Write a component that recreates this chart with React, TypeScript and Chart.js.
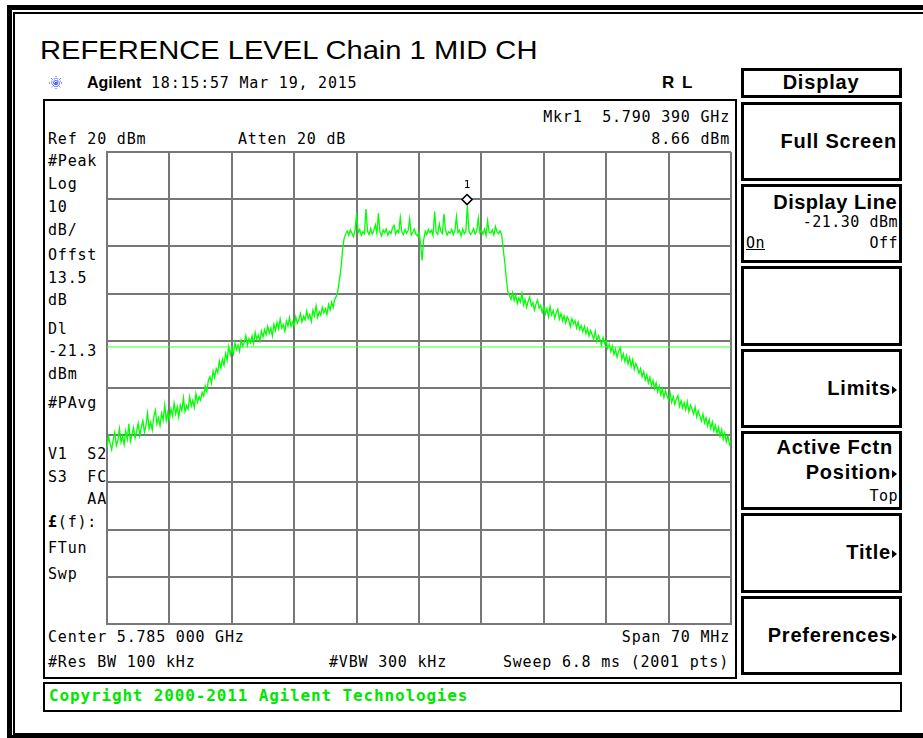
import React, { useEffect, useRef } from "react";
import { Chart, registerables } from "chart.js";

Chart.register(...registerables);

// ---- data ----
const FREQ_START_MHZ = 5750;
const FREQ_STOP_MHZ = 5820;
const REF_LEVEL_DBM = 20;
const BOTTOM_LEVEL_DBM = -80;
const DB_PER_DIV = 10;
const FREQ_DIV_MHZ = 7;
const DISPLAY_LINE_DBM = -21.3;
const MKR_FREQ_MHZ = 5790.39;
const MKR_LEVEL_DBM = 8.66;
const MKR_LABEL = "1";

// trace samples (dBm), evenly spaced across the span
const TRACE_DBM = [
  -42.6, -40.3, -41.8, -43.1, -40.9, -39.4, -42.2, -41.0, -38.6, -41.5, -40.2, -42.0, -39.1, -40.8, -37.6, -41.3, -39.9, -38.4, -40.6, -39.2,
  -37.5, -40.1, -38.3, -36.9, -39.4, -37.8, -35.3, -38.6, -37.2, -38.9, -36.1, -34.7, -37.6, -36.3, -38.0, -35.4, -36.8, -33.6, -36.9, -35.2,
  -36.7, -34.4, -35.9, -33.2, -35.5, -34.0, -36.2, -33.6, -34.8, -32.1, -35.0, -33.7, -34.5, -31.9, -33.8, -32.6, -34.1, -31.2, -33.0, -31.8,
  -32.6, -30.9, -31.7, -29.6, -30.8, -28.3, -27.6, -29.0, -26.4, -27.8, -25.9, -26.7, -24.3, -25.8, -23.9, -25.2, -22.7, -24.1, -21.2, -23.0,
  -21.6, -22.8, -20.4, -21.9, -20.9, -22.2, -19.8, -21.1, -20.3, -18.9, -21.0, -19.5, -20.4, -19.0, -20.6, -18.2, -19.7, -18.8, -20.0, -17.9,
  -19.2, -17.6, -18.7, -16.9, -18.4, -17.3, -19.0, -16.5, -17.8, -16.1, -17.5, -15.4, -17.3, -16.6, -18.0, -15.8, -16.9, -15.1, -17.0, -16.0,
  -16.8, -14.9, -16.3, -15.5, -14.2, -16.0, -14.8, -15.6, -13.7, -15.3, -14.4, -15.9, -13.5, -14.7, -12.6, -15.0, -13.8, -14.5, -12.9, -14.1,
  -13.2, -14.4, -12.3, -13.5, -11.8, -12.9, -11.2, -10.6, -9.4, -7.1, -4.6, -0.8, 1.7, 2.6, 3.3, 2.4, 3.5, 2.8, 2.1, 3.4,
  7.1, 2.9, 3.6, 2.3, 3.1, 2.7, 7.9, 3.2, 2.5, 3.8, 2.6, 3.3, 4.6, 2.8, 7.0, 3.0, 2.2, 3.5, 2.9, 3.7,
  2.4, 3.2, 2.7, 3.9, 4.5, 2.6, 3.4, 2.9, 6.1, 3.1, 2.5, 3.6, 2.8, 3.3, 5.8, 2.4, 3.0, 3.7, 2.6, 2.2,
  3.1, 0.6, -3.0, 1.4, 3.2, 2.5, 3.6, 2.9, 3.4, 2.3, 7.4, 3.0, 2.6, 4.8, 3.2, 2.7, 6.9, 3.5, 2.4, 3.1,
  2.8, 3.6, 2.5, 3.3, 6.3, 2.9, 3.4, 2.2, 3.7, 2.7, 3.1, 8.66, 3.3, 2.5, 3.0, 3.8, 2.6, 3.2, 6.0, 2.9,
  3.4, 2.6, 3.7, 2.3, 5.4, 3.0, 2.8, 3.5, 2.4, 4.2, 3.1, 2.7, 3.3, 2.5, -0.6, -3.4, -6.9, -9.6, -10.4, -11.2,
  -9.8, -11.5, -10.3, -12.1, -10.9, -11.8, -9.9, -12.4, -11.2, -12.9, -11.6, -10.7, -12.6, -11.9, -13.5, -12.2, -11.4, -13.1, -12.5, -14.0,
  -12.8, -14.3, -13.2, -14.9, -12.7, -14.5, -13.6, -15.2, -14.0, -13.3, -15.4, -14.2, -15.8, -14.7, -16.2, -14.9, -15.6, -17.0, -15.3, -16.4,
  -15.7, -17.3, -16.0, -17.6, -16.8, -18.1, -16.9, -18.5, -17.4, -19.0, -17.8, -18.7, -19.6, -18.0, -20.1, -18.9, -19.7, -21.0, -19.3, -20.6,
  -19.9, -21.6, -20.7, -22.3, -21.1, -22.9, -21.8, -23.5, -22.2, -21.4, -23.9, -22.8, -24.4, -23.1, -24.9, -23.6, -25.5, -24.0, -26.1, -24.8,
  -25.6, -26.9, -25.9, -27.6, -26.5, -28.3, -27.2, -28.9, -27.7, -29.6, -28.4, -30.2, -28.9, -30.8, -29.6, -31.4, -30.1, -32.0, -30.6, -31.7,
  -32.6, -31.1, -33.0, -31.8, -33.5, -32.3, -31.6, -33.9, -32.7, -34.2, -33.1, -34.6, -32.9, -35.0, -33.6, -34.4, -35.5, -34.0, -36.1, -34.8,
  -35.9, -37.0, -35.5, -37.4, -36.3, -38.0, -36.7, -38.6, -37.2, -39.1, -37.9, -39.6, -38.3, -40.2, -38.8, -40.8, -39.5, -41.4, -40.1, -42.0,
  -41.3,
];

const TITLE = "REFERENCE LEVEL Chain 1 MID CH";
const LEFT_ANNOTATIONS = [
  { t: "#Peak", y: 161 },
  { t: "Log", y: 184 },
  { t: "10", y: 207 },
  { t: "dB/", y: 230 },
  { t: "Offst", y: 255 },
  { t: "13.5", y: 278 },
  { t: "dB", y: 300 },
  { t: "Dl", y: 329 },
  { t: "-21.3", y: 351 },
  { t: "dBm", y: 374 },
  { t: "#PAvg", y: 403 },
  { t: "V1  S2", y: 454 },
  { t: "S3  FC", y: 477 },
  { t: "    AA", y: 499 },
  { t: "FTun", y: 548 },
  { t: "Swp", y: 574 },
];

const MONO = "'DejaVu Sans Mono', monospace";
const SANS = "'Liberation Sans', Arial, sans-serif";
const W = 923;

type TP = {
  x: number;
  y: number;
  text: React.ReactNode;
  size?: number;
  font?: string;
  bold?: boolean;
  align?: "left" | "right" | "center";
  color?: string;
  ls?: number;
  sx?: number;
  style?: React.CSSProperties;
};

function T({ x, y, text, size = 15, font = MONO, bold, align = "left", color = "#000", ls = 0.8, sx = 1, style }: TP) {
  const s: React.CSSProperties = {
    position: "absolute",
    top: y - size / 2,
    lineHeight: `${size}px`,
    fontSize: size,
    fontFamily: font,
    fontWeight: bold ? "bold" : "normal",
    color,
    whiteSpace: "pre",
    letterSpacing: ls,
    transform: sx !== 1 ? `scaleX(${sx})` : undefined,
    transformOrigin: align === "right" ? "right" : "left",
    ...style,
  };
  if (align === "right") s.right = W - x;
  else if (align === "center") {
    s.left = x - 150;
    s.width = 300;
    s.textAlign = "center";
  } else s.left = x;
  return <div style={s}>{text}</div>;
}

function Box({ l, t, r, b, w = 3 }: { l: number; t: number; r: number; b: number; w?: number }) {
  return (
    <div
      style={{
        position: "absolute",
        left: l,
        top: t,
        width: r - l,
        height: b - t,
        border: `${w}px solid #000`,
        boxSizing: "border-box",
      }}
    />
  );
}

const Arrow = () => (
  <span
    style={{
      display: "inline-block",
      width: 0,
      height: 0,
      borderTop: "4px solid transparent",
      borderBottom: "4px solid transparent",
      borderLeft: "5px solid #000",
      marginLeft: 1,
      verticalAlign: "middle",
    }}
  />
);

function Star({ cx, cy }: { cx: number; cy: number }) {
  const rays = [0, 45, 90, 135, 22.5, 67.5, 112.5, 157.5];
  return (
    <svg style={{ position: "absolute", left: cx - 8, top: cy - 8 }} width={16} height={16}>
      {rays.map((a, i) => {
        const r = i < 4 ? 7 : 5;
        const dx = Math.cos((a * Math.PI) / 180) * r;
        const dy = Math.sin((a * Math.PI) / 180) * r;
        return (
          <line key={i} x1={8 - dx} y1={8 - dy} x2={8 + dx} y2={8 + dy} stroke="#2b3cff" strokeWidth={1} strokeDasharray="1 1" />
        );
      })}
    </svg>
  );
}

const markerPlugin = {
  id: "marker",
  afterDatasetsDraw(chart: any) {
    const { ctx, scales } = chart;
    const px = scales.x.getPixelForValue(MKR_FREQ_MHZ);
    const py = scales.y.getPixelForValue(MKR_LEVEL_DBM);
    const cy = py - 6;
    ctx.save();
    ctx.beginPath();
    ctx.moveTo(px, cy - 5);
    ctx.lineTo(px + 5, cy);
    ctx.lineTo(px, cy + 5);
    ctx.lineTo(px - 5, cy);
    ctx.closePath();
    ctx.fillStyle = "#fff";
    ctx.fill();
    ctx.lineWidth = 1.6;
    ctx.strokeStyle = "#000";
    ctx.stroke();
    ctx.fillStyle = "#000";
    ctx.font = "11px 'DejaVu Sans Mono'";
    ctx.textAlign = "center";
    ctx.textBaseline = "middle";
    ctx.fillText(MKR_LABEL, px, cy - 14);
    ctx.restore();
  },
};

function SpectrumChart() {
  const ref = useRef<HTMLCanvasElement>(null);
  useEffect(() => {
    if (!ref.current) return;
    const n = TRACE_DBM.length;
    const step = (FREQ_STOP_MHZ - FREQ_START_MHZ) / (n - 1);
    const trace = TRACE_DBM.map((v, i) => ({ x: FREQ_START_MHZ + i * step, y: v }));
    const grid = { color: "#777", lineWidth: 2, drawTicks: false };
    const chart = new Chart(ref.current, {
      type: "line",
      data: {
        datasets: [
          {
            data: [
              { x: FREQ_START_MHZ, y: DISPLAY_LINE_DBM },
              { x: FREQ_STOP_MHZ, y: DISPLAY_LINE_DBM },
            ],
            borderColor: "#3dff3d",
            borderWidth: 1,
            pointRadius: 0,
          },
          {
            data: trace,
            borderColor: "#00ff00",
            borderWidth: 1.3,
            pointRadius: 0,
            tension: 0,
          },
        ],
      },
      options: {
        animation: false,
        responsive: false,
        devicePixelRatio: 1,
        layout: { padding: { left: 10, right: 10, top: 10, bottom: 10 } },
        plugins: { legend: { display: false }, tooltip: { enabled: false } },
        scales: {
          x: {
            type: "linear",
            min: FREQ_START_MHZ,
            max: FREQ_STOP_MHZ,
            ticks: { display: false, stepSize: FREQ_DIV_MHZ },
            grid,
            border: { display: true, color: "#777", width: 2 },
          },
          y: {
            type: "linear",
            min: BOTTOM_LEVEL_DBM,
            max: REF_LEVEL_DBM,
            ticks: { display: false, stepSize: DB_PER_DIV },
            grid,
            border: { display: true, color: "#777", width: 2 },
          },
        },
      },
      plugins: [markerPlugin],
    });
    return () => chart.destroy();
  }, []);
  return (
    <canvas
      ref={ref}
      width={644}
      height={492}
      style={{ position: "absolute", left: 97, top: 142, width: 644, height: 492 }}
    />
  );
}

export default function App() {
  return (
    <div style={{ position: "fixed", left: 0, top: 0, width: 923, height: 738, background: "#fff", overflow: "hidden" }}>
      {/* outer frame */}
      <div style={{ position: "absolute", left: 7, top: 5, width: 930, height: 733, borderTop: "5px solid #000", borderLeft: "5px solid #000", boxSizing: "border-box" }} />
      <div style={{ position: "absolute", left: 13, top: 12, width: 930, height: 723, borderTop: "2px solid #000", borderLeft: "2px solid #000", borderBottom: "2px solid #000", boxSizing: "border-box" }} />
      <div style={{ position: "absolute", left: 7, top: 735, width: 930, height: 3, background: "#000" }} />

      <T x={40} y={50} text={TITLE} size={25} font={SANS} ls={0} sx={1.165} />

      <Star cx={56} cy={83} />
      <T x={87} y={83} text="Agilent" size={16} font={SANS} bold ls={0} />
      <T x={151} y={83} text="18:15:57 Mar 19, 2015" />
      <T x={662} y={82} text="R L" size={17} font={SANS} bold ls={1.5} />

      {/* screen box */}
      <Box l={43} t={99} r={737} b={679} w={2.5} />
      <T x={730} y={117} text="Mkr1  5.790 390 GHz" align="right" />
      <T x={48} y={139} text="Ref 20 dBm" />
      <T x={238} y={139} text="Atten 20 dB" />
      <T x={730} y={139} text="8.66 dBm" align="right" />
      {LEFT_ANNOTATIONS.map((a) => (
        <T key={a.t + a.y} x={48} y={a.y} text={a.t} />
      ))}
      <T x={48} y={522} text={<><b>£</b>(f):</>} />
      <T x={48} y={637} text="Center 5.785 000 GHz" />
      <T x={730} y={637} text="Span 70 MHz" align="right" />
      <T x={48} y={662} text="#Res BW 100 kHz" />
      <T x={329} y={662} text="#VBW 300 kHz" />
      <T x={729} y={662} text="Sweep 6.8 ms (2001 pts)" align="right" />

      <SpectrumChart />

      {/* copyright */}
      <Box l={43} t={682} r={902} b={712} w={2.5} />
      <T x={49} y={696} text="Copyright 2000-2011 Agilent Technologies" size={16} bold color="#00e600" ls={0.85} />

      {/* softkeys */}
      <Box l={741} t={68} r={902} b={98} />
      <T x={821} y={82} text="Display" size={20} font={SANS} bold align="center" ls={0.8} />
      <Box l={741} t={102} r={902} b={181} />
      <T x={897} y={141} text="Full Screen" size={20} font={SANS} bold align="right" ls={0.8} />
      <Box l={741} t={184} r={902} b={263} />
      <T x={897} y={202} text="Display Line" size={20} font={SANS} bold align="right" ls={0.5} />
      <T x={898} y={222} text="-21.30 dBm" align="right" ls={0.5} />
      <T x={746} y={243} text="On" ls={0.5} style={{ textDecoration: "underline" }} />
      <T x={898} y={243} text="Off" align="right" ls={0.5} />
      <Box l={741} t={266} r={902} b={346} />
      <Box l={741} t={349} r={902} b={428} />
      <T x={897} y={388} text={<>Limits<Arrow /></>} size={20} font={SANS} bold align="right" ls={0.8} />
      <Box l={741} t={431} r={902} b={510} />
      <T x={893} y={447} text="Active Fctn" size={20} font={SANS} bold align="right" ls={0.8} />
      <T x={897} y={472} text={<>Position<Arrow /></>} size={20} font={SANS} bold align="right" ls={0.8} />
      <T x={898} y={496} text="Top" align="right" ls={0.5} />
      <Box l={741} t={513} r={902} b={593} />
      <T x={897} y={552} text={<>Title<Arrow /></>} size={20} font={SANS} bold align="right" ls={0.8} />
      <Box l={741} t={596} r={902} b={675} />
      <T x={897} y={635} text={<>Preferences<Arrow /></>} size={20} font={SANS} bold align="right" ls={0.8} />
    </div>
  );
}
